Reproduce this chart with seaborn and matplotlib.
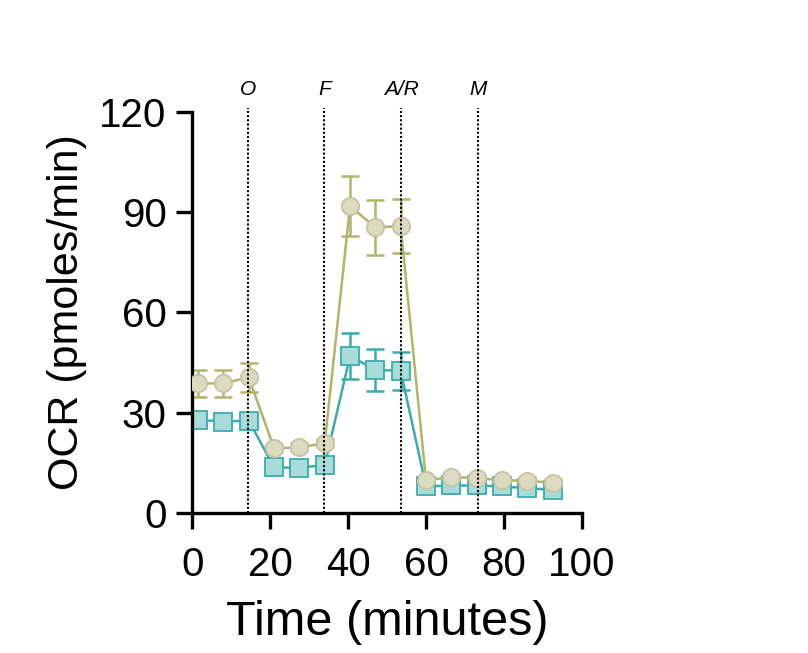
import numpy as np
import pandas as pd
import matplotlib
matplotlib.use("Agg")
import matplotlib.pyplot as plt
import seaborn as sns

# measurement times (minutes)
time = [1.5, 8, 14.5, 21, 27.5, 34, 40.5, 47, 53.5, 60, 66.5, 73, 79.5, 86, 92.5]

# circle series (upper)
ocr_circle = [38.8, 38.8, 40.6, 19.4, 19.7, 20.9, 91.8, 85.4, 85.8, 9.9, 10.8, 10.5, 9.9, 9.7, 9.1]
err_circle = [4.0, 4.0, 4.4, 1.2, 1.2, 1.2, 9.0, 8.2, 8.0, 1.0, 1.0, 1.0, 1.0, 1.0, 1.0]

# square series (lower)
ocr_square = [27.9, 27.4, 27.7, 13.7, 13.6, 14.4, 47.0, 42.8, 42.6, 8.0, 8.3, 8.3, 8.0, 7.5, 7.0]
err_square = [1.5, 1.5, 1.5, 1.5, 1.5, 1.5, 7.0, 6.2, 5.7, 1.0, 1.0, 1.0, 1.0, 1.0, 1.0]

# injections
inject_labels = ["O", "F", "A/R", "M"]
inject_times = [14.4, 33.9, 53.7, 73.3]

olive = "#b3b46a"
circle_face = "#dcdbbf"
circle_edge = "#c6c4a6"
teal = "#3aacac"
square_face = "#a8dcdb"

sns.set_style("ticks")
plt.rcParams["font.family"] = ["Liberation Sans", "DejaVu Sans"]
plt.rcParams["text.color"] = "black"
plt.rcParams["axes.labelcolor"] = "black"
plt.rcParams["xtick.color"] = "black"
plt.rcParams["ytick.color"] = "black"
plt.rcParams["axes.edgecolor"] = "black"

fig = plt.figure(figsize=(8.08, 6.53), dpi=100)
ax = fig.add_axes([0.238, 0.214, 0.482, 0.615])

df_sq = pd.DataFrame({"time": time, "ocr": ocr_square})
df_ci = pd.DataFrame({"time": time, "ocr": ocr_circle})

ax.errorbar(time, ocr_square, yerr=err_square, fmt="none", ecolor=teal,
            elinewidth=1.8, capsize=6.5, capthick=1.8, zorder=1)
ax.errorbar(time, ocr_circle, yerr=err_circle, fmt="none", ecolor=olive,
            elinewidth=1.8, capsize=6.5, capthick=1.8, zorder=1)

sns.lineplot(data=df_sq, x="time", y="ocr", ax=ax, color=teal, lw=1.8,
             marker="s", markersize=12.5, markerfacecolor=square_face,
             markeredgecolor=teal, markeredgewidth=1.3, zorder=2)
sns.lineplot(data=df_ci, x="time", y="ocr", ax=ax, color=olive, lw=1.8,
             marker="o", markersize=12.5, markerfacecolor=circle_face,
             markeredgecolor=circle_edge, markeredgewidth=1.3, zorder=3)

for lab, t in zip(inject_labels, inject_times):
    ax.plot([t, t], [0, 121.2], color="black", lw=1.5, ls=(0, (1, 1)),
            zorder=5, clip_on=False)
    ax.text(t, 126.5, lab, ha="center", va="center", fontsize=15,
            fontstyle="italic", clip_on=False)

ax.set_xlim(0, 100)
ax.set_ylim(0, 120)
ax.set_xticks([0, 20, 40, 60, 80, 100])
ax.set_yticks([0, 30, 60, 90, 120])
sns.despine(ax=ax)
for s in ["left", "bottom"]:
    ax.spines[s].set_linewidth(2.4)
ax.tick_params(axis="both", length=11.5, width=2.4, labelsize=29, color="black")
ax.tick_params(axis="x", pad=12)
ax.tick_params(axis="y", pad=7)

ax.set_xlabel("Time (minutes)", fontsize=35)
ax.set_ylabel("OCR (pmoles/min)", fontsize=31)
ax.xaxis.set_label_coords(0.5, -0.215)
ax.yaxis.set_label_coords(-0.27, 0.5)

fig.savefig("out.png", dpi=100)
